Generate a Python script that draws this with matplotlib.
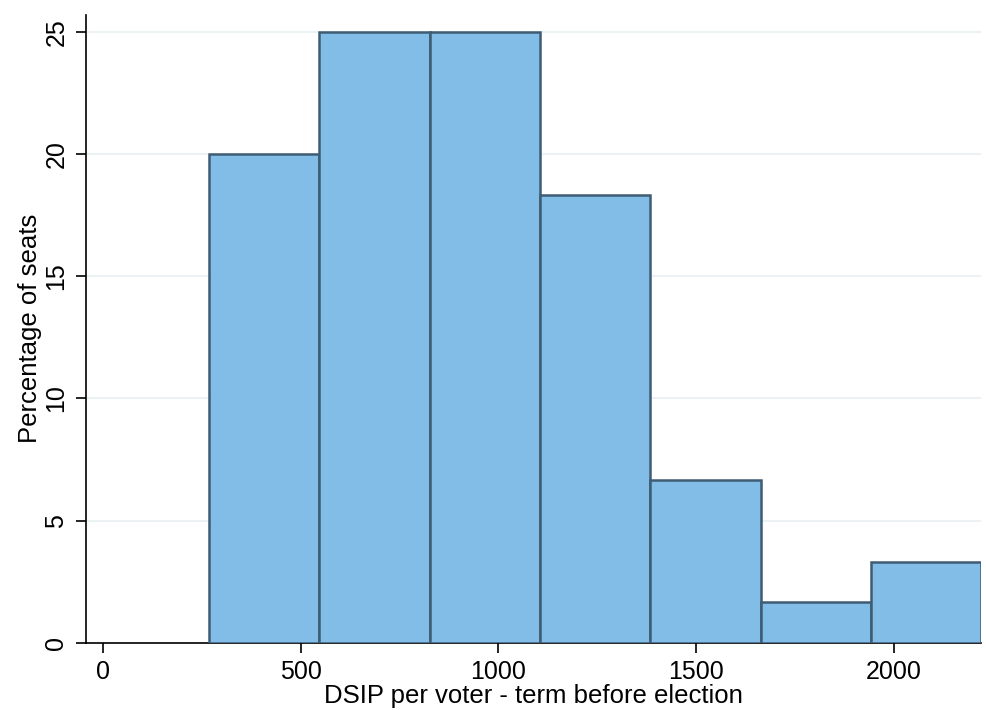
import matplotlib
matplotlib.use("Agg")
import matplotlib.pyplot as plt
import numpy as np

# histogram of DSIP per voter, term before election
bin_edges = [268, 547, 826, 1105, 1384, 1663, 1942, 2221]
pct_seats = [20.0, 25.0, 25.0, 18.33, 6.67, 1.67, 3.33]
x_ticks = [0, 500, 1000, 1500, 2000]
y_ticks = [0, 5, 10, 15, 20, 25]

plt.rcParams['font.family'] = ['Liberation Sans', 'DejaVu Sans']

fig = plt.figure(figsize=(9.86, 7.10), dpi=100)
ax = fig.add_axes([0.087, 0.0944, 0.908, 0.885])

widths = np.diff(bin_edges)
ax.bar(bin_edges[:-1], pct_seats, width=widths, align='edge',
       color='#82bde8', edgecolor='#3e5c74', linewidth=1.8, zorder=3)

ax.set_xlim(-44, 2221)
ax.set_ylim(0, 25.7)
ax.set_xticks(x_ticks)
ax.set_yticks(y_ticks)
ax.set_yticklabels([str(v) for v in y_ticks], rotation=90, va='center')
ax.yaxis.grid(True, color='#eaf2f3', linewidth=1.5, zorder=0)
ax.tick_params(axis='both', labelsize=18, length=7.5, width=1.2, color='black')
ax.tick_params(axis='x', pad=5)
ax.tick_params(axis='y', pad=5)

for s in ['top', 'right']:
    ax.spines[s].set_visible(False)
for s in ['left', 'bottom']:
    ax.spines[s].set_linewidth(1.2)

ax.set_xlabel('DSIP per voter - term before election', fontsize=18.5, labelpad=0)
ax.set_ylabel('Percentage of seats', fontsize=18.5, labelpad=2)

fig.savefig('out.png', dpi=100)
